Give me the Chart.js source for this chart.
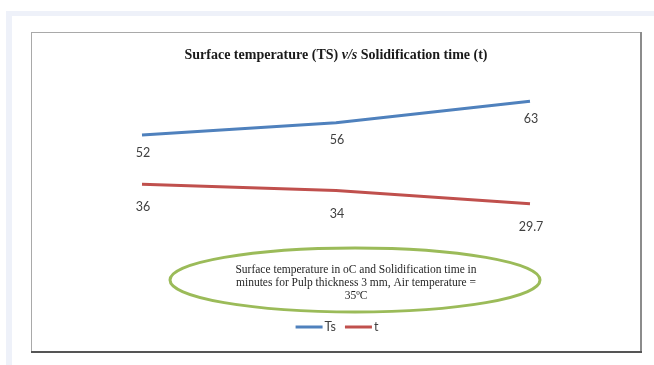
<!DOCTYPE html>
<html>
<head>
<meta charset="utf-8">
<script src="https://cdn.jsdelivr.net/npm/chart.js@4/dist/chart.umd.min.js"></script>
<style>
  html, body { margin: 0; padding: 0; background: #ffffff; }
  #wrap { width: 654px; height: 365px; position: relative; }
</style>
</head>
<body>
<div id="wrap"><canvas id="c" width="654" height="365"></canvas></div>
<script>
// Pulp thickness 3 mm, three drying runs
const categories = ['1', '2', '3'];
const surfaceTemp = [52, 56, 63];        // Ts, °C
const solidTime = [36, 34, 29.7];        // t, minutes
const seriesNames = ['Ts', 't'];
const titleParts = [
  { text: 'Surface temperature (TS) ', italic: false },
  { text: 'v/s', italic: true },
  { text: ' Solidification time (t)', italic: false }
];
const noteLines = [
  'Surface temperature in oC and Solidification time in',
  'minutes for Pulp thickness 3 mm, Air temperature =',
  '35\u00BAC'
];

const BLUE = '#4f81bd';
const RED = '#c0504d';
const LABEL_FONT = '12.5px Lato, "Open Sans", sans-serif';

// Page frame, chart box, title, callout ellipse and legend
const decor = {
  id: 'decor',
  beforeDraw(chart) {
    const ctx = chart.ctx;
    ctx.save();
    ctx.fillStyle = '#ffffff';
    ctx.fillRect(0, 0, 654, 365);
    ctx.fillStyle = '#eef1f9';
    ctx.fillRect(6, 11, 648, 354);
    ctx.fillStyle = '#ffffff';
    ctx.fillRect(12, 16, 642, 349);
    // chart box
    ctx.strokeStyle = '#a9a9a9';
    ctx.lineWidth = 1;
    ctx.strokeRect(31.5, 32.5, 609, 319);
    ctx.strokeStyle = '#8c8c8c';
    ctx.lineWidth = 2;
    ctx.beginPath(); ctx.moveTo(641, 32); ctx.lineTo(641, 353); ctx.stroke();
    ctx.strokeStyle = '#555555';
    ctx.beginPath(); ctx.moveTo(31, 352); ctx.lineTo(642, 352); ctx.stroke();
    ctx.restore();
  },
  afterDraw(chart) {
    const ctx = chart.ctx;
    ctx.save();
    // title
    const fonts = titleParts.map(p => (p.italic ? 'italic ' : '') + 'bold 14px "Liberation Serif", serif');
    let total = 0;
    titleParts.forEach((p, i) => { ctx.font = fonts[i]; total += ctx.measureText(p.text).width; });
    let x = 336 - total / 2;
    ctx.fillStyle = '#1a1a1a';
    ctx.textBaseline = 'middle';
    ctx.textAlign = 'left';
    titleParts.forEach((p, i) => {
      ctx.font = fonts[i];
      ctx.fillText(p.text, x, 55);
      x += ctx.measureText(p.text).width;
    });
    // callout ellipse
    ctx.strokeStyle = '#9bbb59';
    ctx.lineWidth = 3;
    ctx.beginPath();
    ctx.ellipse(355, 280, 185, 32, 0, 0, Math.PI * 2);
    ctx.stroke();
    ctx.fillStyle = '#262626';
    ctx.font = '11.5px "Liberation Serif", serif';
    ctx.textAlign = 'center';
    noteLines.forEach((l, i) => ctx.fillText(l, 356, 270 + i * 13));
    // legend
    const items = chart.data.datasets;
    ctx.font = '12.5px Lato, "Open Sans", sans-serif';
    const lineLen = 27, gap = 2, between = 9;
    let w = 0;
    items.forEach((d, i) => { w += lineLen + gap + ctx.measureText(d.label).width + (i ? between : 0); });
    let lx = 337 - w / 2;
    ctx.textAlign = 'left';
    items.forEach((d, i) => {
      if (i) lx += between;
      ctx.strokeStyle = d.borderColor;
      ctx.lineWidth = 3;
      ctx.beginPath(); ctx.moveTo(lx, 327); ctx.lineTo(lx + lineLen, 327); ctx.stroke();
      lx += lineLen + gap;
      ctx.fillStyle = '#404040';
      ctx.fillText(d.label, lx, 327);
      lx += ctx.measureText(d.label).width;
    });
    ctx.restore();
  }
};

// Value labels under each point
const valueLabels = {
  id: 'valueLabels',
  afterDatasetsDraw(chart) {
    const ctx = chart.ctx;
    ctx.save();
    ctx.font = LABEL_FONT;
    ctx.fillStyle = '#404040';
    ctx.textAlign = 'center';
    ctx.textBaseline = 'middle';
    chart.data.datasets.forEach((ds, di) => {
      const meta = chart.getDatasetMeta(di);
      const off = ds.labelOffset;
      meta.data.forEach((pt, i) => {
        ctx.fillText(String(ds.data[i]), pt.x + 1, pt.y + off);
      });
    });
    ctx.restore();
  }
};

new Chart(document.getElementById('c'), {
  type: 'line',
  data: {
    labels: categories,
    datasets: [
      { label: seriesNames[0], data: surfaceTemp, borderColor: BLUE, backgroundColor: BLUE,
        borderWidth: 3, pointRadius: 0, tension: 0, labelOffset: 17.5 },
      { label: seriesNames[1], data: solidTime, borderColor: RED, backgroundColor: RED,
        borderWidth: 3, pointRadius: 0, tension: 0, labelOffset: 23 }
    ]
  },
  options: {
    responsive: false,
    animation: false,
    layout: { padding: { left: 142, right: 124, top: 79.6, bottom: 131.4 } },
    scales: {
      x: { display: false, offset: false },
      y: { display: false, min: 20, max: 70 }
    },
    plugins: {
      legend: { display: false },
      title: { display: false },
      tooltip: { enabled: false }
    }
  },
  plugins: [decor, valueLabels]
});
</script>
</body>
</html>
